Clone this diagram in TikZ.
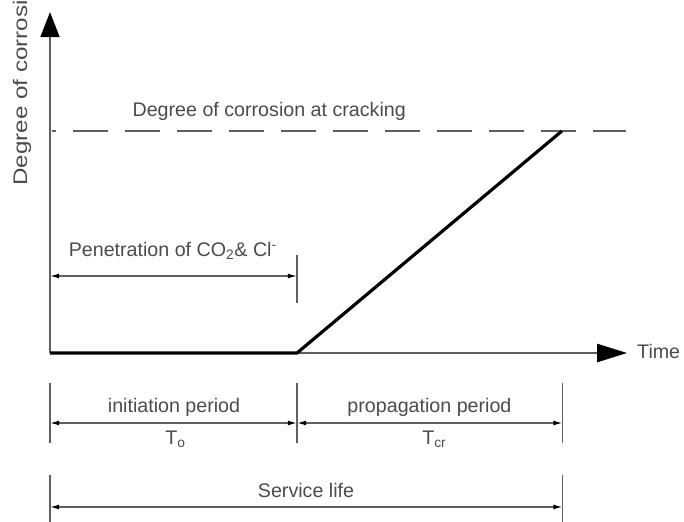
\documentclass[tikz,border=0pt]{standalone}
\usepackage{fontspec}
\setmainfont{Liberation Sans}
\usetikzlibrary{arrows.meta}

\definecolor{txtgray}{RGB}{75,75,75}
\definecolor{axisgray}{RGB}{95,95,95}

\tikzset{
  axisline/.style={draw=axisgray, line width=1.5pt},
  biglabel/.style={text=txtgray, inner sep=0pt, font=\fontsize{14.8}{17}\selectfont},
  timelabel/.style={text=txtgray, inner sep=0pt, font=\fontsize{14.8}{17}\selectfont},
  dimline/.style={draw=axisgray, line width=1pt,
    {Latex[length=2.4mm,width=1.3mm,color=black]}-{Latex[length=2.4mm,width=1.3mm,color=black]}},
  tickline/.style={draw=axisgray, line width=1pt},
  damage/.style={draw=black, line width=2.4pt, line join=miter}
}

\begin{document}
\begin{tikzpicture}

    \useasboundingbox (-1.323, -4.445) rectangle (16.775, 9.340);

    % axes
    \coordinate (o)    at (0, 0);
    \coordinate (ytip) at (0, 9.02);
    \coordinate (xtip) at (15.266, 0);
    \draw[axisline, -{Triangle[length=0.66cm,width=0.50cm,color=black]}] (o) -- (ytip);
    \draw[axisline, -{Triangle[length=0.79cm,width=0.48cm,color=black]}] (o) -- (xtip);

    \node[biglabel, anchor=west] (time) at (15.53, 0.05) {Time};
    \node[biglabel, anchor=base west, rotate=90] (ylab) at (-0.608, 4.418)
        {\scalebox{1.23}[1]{Degree of corrosion}};

    % corrosion at cracking
    \coordinate (crl) at (0.053, 5.874);
    \coordinate (crr) at (15.24, 5.874);
    \draw[draw=axisgray, line width=1.5pt, dash pattern=on 0.926cm off 0.450cm, dash phase=0.82cm] (crl) -- (crr);
    \node[biglabel, anchor=base] (crlab) at (5.80, 6.27) {Degree of corrosion at cracking};

    % damage curve
    \coordinate (kink) at (6.535, 0);
    \coordinate (peak) at (13.545, 5.874);
    \draw[damage] (o) -- (kink) -- (peak);

    % penetration
    \coordinate (pa1) at (0, 2.593);     \coordinate (pa2) at (0, 1.323);
    \coordinate (pb1) at (6.535, 2.593); \coordinate (pb2) at (6.535, 1.323);
    \coordinate (pl) at (0, 2.037);      \coordinate (pr) at (6.535, 2.037);
    \draw[tickline] (pa1) -- (pa2);
    \draw[tickline] (pb1) -- (pb2);
    \draw[dimline] (pl) -- (pr);
    \node[biglabel, anchor=base] (penlab) at (3.25, 2.566)
        {Penetration of CO\textsubscript{2}\& Cl\textsuperscript{-}};

    % periods
    \coordinate (ta1) at (0, -0.794);      \coordinate (ta2) at (0, -2.381);
    \coordinate (tb1) at (6.535, -0.794);  \coordinate (tb2) at (6.535, -2.381);
    \coordinate (tc1) at (13.56, -0.794);  \coordinate (tc2) at (13.56, -2.381);
    \coordinate (ia) at (0, -1.852);       \coordinate (ib) at (6.535, -1.852);
    \coordinate (ic) at (13.56, -1.852);
    \draw[tickline] (ta1) -- (ta2);
    \draw[tickline] (tb1) -- (tb2);
    \draw[tickline] (tc1) -- (tc2);
    \draw[dimline] (ia) -- (ib);
    \draw[dimline] (ib) -- (ic);
    \node[biglabel, anchor=base] (inilab)  at (3.281, -1.561) {initiation period};
    \node[biglabel, anchor=base] (proplab) at (10.04, -1.561) {propagation period};
    \node[timelabel, anchor=base] (tolab)  at (3.32, -2.434) {T\textsubscript{o}};
    \node[timelabel, anchor=base] (tcrlab) at (10.17, -2.434) {T\textsubscript{cr}};

    % service life
    \coordinate (sa1) at (0, -3.228);      \coordinate (sb1) at (13.56, -3.228);
    \coordinate (sa2) at (0, -4.6);        \coordinate (sb2) at (13.56, -4.6);
    \coordinate (sl) at (0, -4.074);       \coordinate (sr) at (13.56, -4.074);
    \draw[tickline] (sa1) -- (sa2);
    \draw[tickline] (sb1) -- (sb2);
    \draw[dimline] (sl) -- (sr);
    \node[biglabel, anchor=base] (servlab) at (6.773, -3.836) {Service life};

\end{tikzpicture}
\end{document}
